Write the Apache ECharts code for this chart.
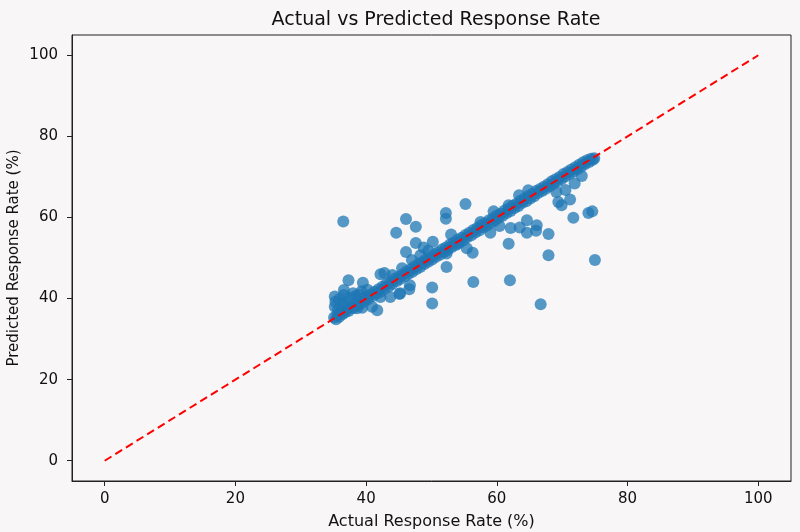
<!DOCTYPE html>
<html>
<head>
<meta charset="utf-8">
<script src="https://cdn.jsdelivr.net/npm/echarts@6/dist/echarts.min.js"></script>
<style>
  html, body { margin: 0; padding: 0; background: #f8f6f7; }
  #chart { width: 800px; height: 532px; }
</style>
</head>
<body>
<div id="chart"></div>
<script>
'use strict';

// actual vs predicted (band along the diagonal, then scatter, then outliers)
const actual = [
    35.1, 35.4, 35.6, 35.9, 36.1, 36.4, 36.8, 37.0, 37.3, 37.7, 38.0, 38.2, 38.6, 38.9, 39.1, 39.5,
    39.8, 40.1, 40.3, 40.7, 41.0, 41.3, 41.6, 41.9, 42.2, 42.5, 42.8, 43.1, 43.5, 43.7, 44.0, 44.3,
    44.7, 45.0, 45.2, 45.6, 45.9, 46.2, 46.5, 46.8, 47.1, 47.4, 47.7, 48.0, 48.3, 48.6, 48.9, 49.2,
    49.5, 49.8, 50.1, 50.4, 50.7, 51.0, 51.3, 51.6, 51.9, 52.2, 52.5, 52.8, 53.1, 53.4, 53.7, 54.0,
    54.3, 54.6, 54.9, 55.2, 55.5, 55.8, 56.1, 56.4, 56.7, 57.0, 57.3, 57.6, 57.9, 58.2, 58.5, 58.8,
    59.1, 59.4, 59.7, 60.0, 60.3, 60.6, 60.9, 61.2, 61.5, 61.8, 62.1, 62.4, 62.7, 63.0, 63.3, 63.6,
    63.9, 64.2, 64.5, 64.8, 65.1, 65.4, 65.7, 66.0, 66.3, 66.6, 66.9, 67.2, 67.5, 67.8, 68.1, 68.4,
    68.7, 69.0, 69.3, 69.6, 69.9, 70.2, 70.5, 70.8, 71.1, 71.4, 71.7, 72.0, 72.3, 72.6, 72.9, 73.2,
    73.5, 73.8, 74.1, 74.4, 74.7, 74.9,
    35.2, 35.3, 35.2, 35.7, 35.9, 36.2, 36.6, 36.8, 37.2, 37.6, 38.0, 38.4, 38.9, 39.3, 38.6, 39.4,
    40.9, 41.7, 40.2, 42.2, 43.7, 45.2, 42.8, 42.2, 44.0, 46.7, 45.5, 47.0, 48.3, 48.8, 47.6, 50.2,
    49.5, 52.3, 54.1, 53.0, 55.4, 56.3, 57.5, 59.0, 59.5, 61.8, 63.4, 64.8, 60.4, 62.1, 63.5, 64.6,
    64.6, 66.1, 66.0, 67.9, 69.1, 69.4, 69.9, 71.2, 71.9, 73.0, 70.5,
    36.5, 44.6, 46.1, 47.6, 52.2, 52.2, 55.2, 37.3, 39.5, 36.6, 46.1, 52.3, 56.4, 50.1, 50.1, 46.6,
    45.1, 61.8, 62.0, 66.7, 67.9, 75.0, 71.7, 74.0, 74.6
];
const predicted = [
    35.3, 34.9, 36.0, 35.5, 36.8, 36.2, 36.6, 37.4, 36.9, 37.9, 37.6, 38.7, 38.3, 39.2, 38.6, 39.9,
    39.4, 40.5, 39.9, 41.0, 40.6, 41.7, 41.2, 42.3, 41.7, 42.9, 42.4, 43.6, 43.0, 44.1, 43.6, 44.8,
    44.3, 45.4, 44.8, 46.0, 45.5, 46.7, 46.1, 47.2, 46.6, 47.9, 47.3, 48.5, 47.8, 49.0, 48.5, 49.7,
    49.1, 50.2, 49.6, 50.9, 50.3, 51.4, 50.8, 52.1, 51.5, 52.6, 52.0, 53.3, 52.7, 53.8, 53.2, 54.5,
    53.9, 55.0, 54.4, 55.7, 55.2, 56.2, 55.6, 56.9, 56.3, 57.4, 56.8, 58.1, 57.5, 58.6, 58.0, 59.3,
    58.7, 59.8, 59.2, 60.5, 59.9, 61.0, 60.4, 61.7, 61.1, 62.2, 61.6, 62.9, 62.3, 63.4, 62.8, 64.1,
    63.6, 64.6, 64.0, 65.3, 64.7, 65.8, 65.2, 66.5, 66.0, 67.0, 66.5, 67.6, 67.1, 68.2, 67.7, 68.9,
    68.3, 69.4, 68.9, 70.0, 69.5, 70.7, 70.1, 71.2, 70.7, 71.8, 71.3, 72.4, 71.9, 73.0, 72.5, 73.6,
    73.2, 74.1, 73.7, 74.5, 74.2, 74.6,
    40.5, 39.2, 38.0, 37.3, 39.8, 38.6, 40.9, 39.3, 38.1, 40.2, 41.3, 40.6, 41.0, 41.8, 37.6, 37.7,
    38.0, 37.1, 42.2, 40.4, 40.4, 41.3, 46.3, 46.0, 45.8, 43.3, 47.5, 49.5, 50.7, 52.6, 53.7, 54.0,
    51.8, 51.1, 53.6, 55.8, 52.4, 51.3, 58.9, 56.2, 61.5, 63.0, 65.5, 66.7, 57.9, 57.4, 57.5, 59.3,
    56.2, 58.1, 56.7, 55.9, 66.3, 63.8, 63.0, 64.4, 68.4, 70.2, 66.8,
    59.0, 56.2, 59.6, 57.7, 61.1, 59.7, 63.3, 44.5, 43.9, 42.1, 51.5, 47.8, 44.1, 42.7, 38.8, 42.3,
    41.1, 53.5, 44.5, 38.6, 50.7, 49.5, 59.9, 61.1, 61.5
];

// perfect-prediction reference line
const idealLine = [[0, 0], [100, 100]];
const tickValues = [0, 20, 40, 60, 80, 100];

const points = actual.map((a, i) => [a, predicted[i]]);

const font = 'DejaVu Sans';
const chart = echarts.init(document.getElementById('chart'));

function axisBase(name, nameSize) {
    return {
        type: 'value',
        min: -5,
        max: 105,
        name: name,
        nameLocation: 'middle',
        nameMoveOverlap: false,
        nameTextStyle: { color: '#111', fontSize: nameSize, fontFamily: font },
        axisLine: { show: true, onZero: false, lineStyle: { color: '#222', width: 1 } },
        axisTick: { show: true, inside: false, length: 5, customValues: tickValues,
            lineStyle: { color: '#222' } },
        axisLabel: { customValues: tickValues, color: '#111', fontSize: 15,
            fontFamily: font },
        splitLine: { show: false }
    };
}

const xAxis = axisBase('Actual Response Rate (%)', 16);
xAxis.nameGap = 33;
xAxis.axisLabel.margin = 11;
const yAxis = axisBase('Predicted Response Rate (%)', 15);
yAxis.nameGap = 50;
yAxis.axisLabel.margin = 14;

chart.setOption({
    backgroundColor: '#f8f6f7',
    animation: false,
    title: {
        text: 'Actual vs Predicted Response Rate',
        left: 431,
        textAlign: 'center',
        top: 6,
        textStyle: { color: '#111', fontSize: 19, fontWeight: 'normal', fontFamily: font }
    },
    grid: {
        left: 72, right: 9, top: 35, bottom: 51,
        outerBoundsMode: 'none',
        containLabel: false,
        show: true, borderColor: '#222', borderWidth: 1,
        backgroundColor: 'transparent'
    },
    xAxis: xAxis,
    yAxis: yAxis,
    series: [
        {
            type: 'scatter',
            data: points,
            symbolSize: 12,
            itemStyle: { color: '#1f77b4', opacity: 0.75 },
            z: 2
        },
        {
            type: 'line',
            data: idealLine,
            symbol: 'none',
            lineStyle: { color: '#ff0000', width: 2, type: [8, 4.5] },
            z: 3
        }
    ]
});
</script>
</body>
</html>
